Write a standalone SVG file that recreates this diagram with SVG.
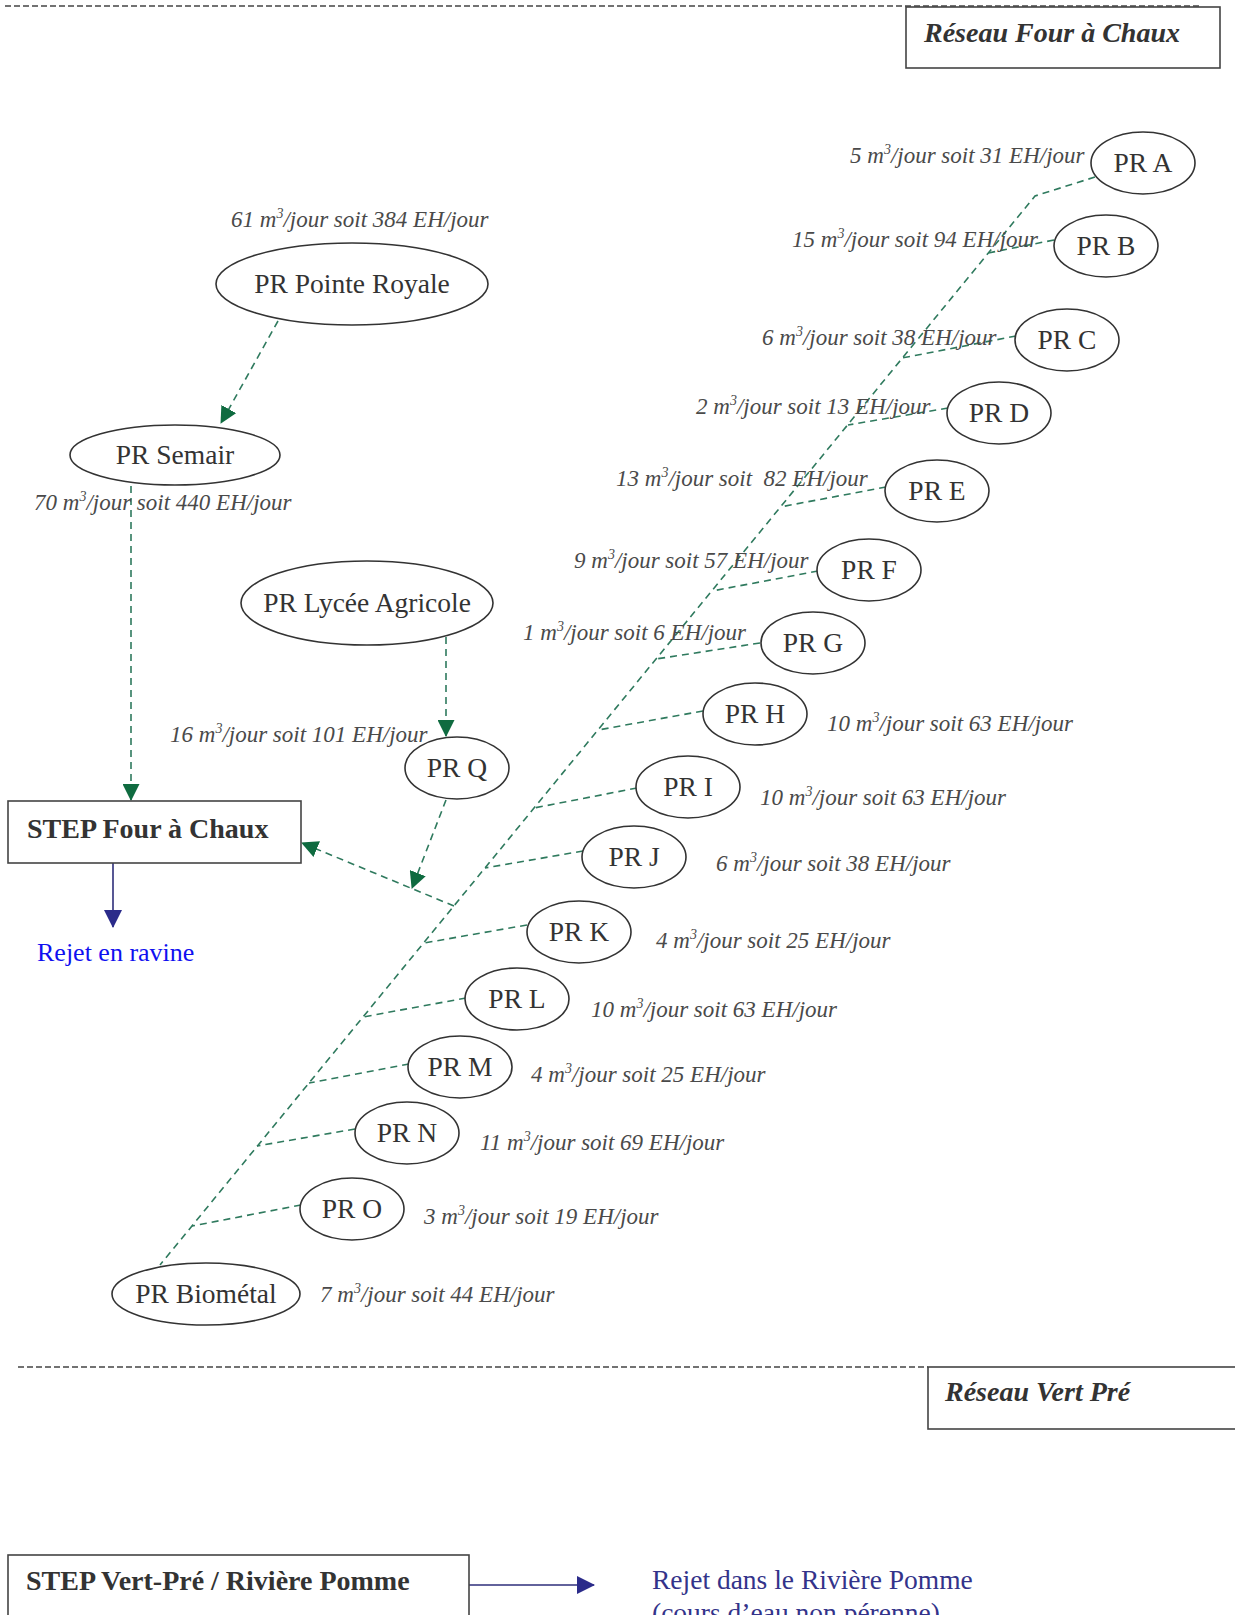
<svg xmlns="http://www.w3.org/2000/svg" width="1235" height="1615" viewBox="0 0 1235 1615">
<style>
.node ellipse{fill:#fff;stroke:#333;stroke-width:1.6}
.node text{font-family:"Liberation Serif",serif;font-size:27.5px;fill:#333;text-anchor:middle}
.lbl{font-family:"Liberation Serif",serif;font-size:23px;font-style:italic;fill:#4a4a4a}
.sup{font-size:14px}
.flow{fill:none;stroke:#2f7a5e;stroke-width:1.6;stroke-dasharray:7 5}
.sep{fill:none;stroke:#444;stroke-width:1.6;stroke-dasharray:6 3}
.box{fill:#fff;stroke:#444;stroke-width:1.6}
.title{font-family:"Liberation Serif",serif;font-size:28px;font-style:italic;font-weight:bold;fill:#333}
.stepTxt{font-family:"Liberation Serif",serif;font-size:28px;font-weight:bold;fill:#333}
.out{fill:none;stroke:#2e2e7a;stroke-width:1.6}
</style>
<defs>
<marker id="ag" markerWidth="17" markerHeight="17" refX="16" refY="8.5" orient="auto" markerUnits="userSpaceOnUse"><path d="M0,0 L17,8.5 L0,17 Z" fill="#0f6b40"/></marker>
<marker id="ab" markerWidth="18" markerHeight="18" refX="17" refY="9" orient="auto" markerUnits="userSpaceOnUse"><path d="M0,0 L18,9 L0,18 Z" fill="#2b2b8a"/></marker>
</defs>

<g id="separators">
<line class="sep" x1="5" y1="6" x2="1200" y2="6"/>
<line class="sep" x1="18" y1="1367" x2="928" y2="1367"/>
</g>

<g id="title-four-a-chaux">
<rect class="box" x="906" y="7" width="314" height="61"/>
<text class="title" x="924" y="42">Réseau Four à Chaux</text>
</g>
<g id="title-vert-pre">
<rect class="box" x="928" y="1367" width="320" height="62"/>
<text class="title" x="945" y="1401">Réseau Vert Pré</text>
</g>

<g id="connectors">
<polyline class="flow" points="1095,177 1035,196 160,1265"/>
<line class="flow" x1="1054" y1="240" x2="988" y2="253"/>
<line class="flow" x1="1016" y1="336" x2="902" y2="358"/>
<line class="flow" x1="948" y1="408" x2="848" y2="425"/>
<line class="flow" x1="886" y1="487" x2="780" y2="507"/>
<line class="flow" x1="818" y1="571" x2="712" y2="591"/>
<line class="flow" x1="760" y1="643" x2="656" y2="659"/>
<line class="flow" x1="703" y1="711" x2="598" y2="730"/>
<line class="flow" x1="637" y1="788" x2="534" y2="808"/>
<line class="flow" x1="583" y1="851" x2="485" y2="868"/>
<line class="flow" x1="527" y1="925" x2="424" y2="943"/>
<line class="flow" x1="466" y1="998" x2="363" y2="1017"/>
<line class="flow" x1="409" y1="1064" x2="309" y2="1083"/>
<line class="flow" x1="355" y1="1129" x2="257" y2="1146"/>
<line class="flow" x1="301" y1="1205" x2="192" y2="1226"/>
<line class="flow" x1="278" y1="321" x2="221" y2="423" marker-end="url(#ag)"/>
<line class="flow" x1="131" y1="486" x2="131" y2="800" marker-end="url(#ag)"/>
<line class="flow" x1="446" y1="637" x2="446" y2="736" marker-end="url(#ag)"/>
<line class="flow" x1="446" y1="800" x2="412" y2="888" marker-end="url(#ag)"/>
<line class="flow" x1="454" y1="906" x2="302" y2="843" marker-end="url(#ag)"/>
<line class="out" x1="113" y1="863" x2="113" y2="927" marker-end="url(#ab)"/>
<line class="out" x1="469" y1="1585" x2="594" y2="1585" marker-end="url(#ab)"/>
</g>

<g id="step-four-a-chaux">
<rect class="box" x="8" y="801" width="293" height="62"/>
<text class="stepTxt" x="27" y="838">STEP Four à Chaux</text>
</g>
<g id="rejet-ravine"><text x="37" y="961" font-family="Liberation Serif, serif" font-size="26" fill="#1010f0">Rejet en ravine</text></g>

<g id="step-vert-pre">
<rect class="box" x="8" y="1555" width="461" height="80"/>
<text class="stepTxt" x="26" y="1590">STEP Vert-Pré / Rivière Pomme</text>
</g>
<g id="rejet-pomme" font-family="Liberation Serif, serif" font-size="27.5" fill="#33338a">
<text x="652" y="1589">Rejet dans le Rivière Pomme</text>
<text x="652" y="1622">(cours d’eau non pérenne)</text>
</g>

<g id="pr-pointe-royale" class="node"><ellipse cx="352" cy="284" rx="136" ry="41"/><text x="352" y="293">PR Pointe Royale</text></g>
<g id="pr-semair" class="node"><ellipse cx="175" cy="455" rx="105" ry="30"/><text x="175" y="464">PR Semair</text></g>
<g id="pr-lycee" class="node"><ellipse cx="367" cy="603" rx="126" ry="42"/><text x="367" y="612">PR Lycée Agricole</text></g>
<g id="pr-q" class="node"><ellipse cx="457" cy="768" rx="52" ry="31"/><text x="457" y="777">PR Q</text></g>
<g id="pr-a" class="node"><ellipse cx="1143" cy="163" rx="52" ry="31"/><text x="1143" y="172">PR A</text></g>
<g id="pr-b" class="node"><ellipse cx="1106" cy="246" rx="52" ry="31"/><text x="1106" y="255">PR B</text></g>
<g id="pr-c" class="node"><ellipse cx="1067" cy="340" rx="52" ry="31"/><text x="1067" y="349">PR C</text></g>
<g id="pr-d" class="node"><ellipse cx="999" cy="413" rx="52" ry="31"/><text x="999" y="422">PR D</text></g>
<g id="pr-e" class="node"><ellipse cx="937" cy="491" rx="52" ry="31"/><text x="937" y="500">PR E</text></g>
<g id="pr-f" class="node"><ellipse cx="869" cy="570" rx="52" ry="31"/><text x="869" y="579">PR F</text></g>
<g id="pr-g" class="node"><ellipse cx="813" cy="643" rx="52" ry="31"/><text x="813" y="652">PR G</text></g>
<g id="pr-h" class="node"><ellipse cx="755" cy="714" rx="52" ry="31"/><text x="755" y="723">PR H</text></g>
<g id="pr-i" class="node"><ellipse cx="688" cy="787" rx="52" ry="31"/><text x="688" y="796">PR I</text></g>
<g id="pr-j" class="node"><ellipse cx="634" cy="857" rx="52" ry="31"/><text x="634" y="866">PR J</text></g>
<g id="pr-k" class="node"><ellipse cx="579" cy="932" rx="52" ry="31"/><text x="579" y="941">PR K</text></g>
<g id="pr-l" class="node"><ellipse cx="517" cy="999" rx="52" ry="31"/><text x="517" y="1008">PR L</text></g>
<g id="pr-m" class="node"><ellipse cx="460" cy="1067" rx="52" ry="31"/><text x="460" y="1076">PR M</text></g>
<g id="pr-n" class="node"><ellipse cx="407" cy="1133" rx="52" ry="31"/><text x="407" y="1142">PR N</text></g>
<g id="pr-o" class="node"><ellipse cx="352" cy="1209" rx="52" ry="31"/><text x="352" y="1218">PR O</text></g>
<g id="pr-biometal" class="node"><ellipse cx="206" cy="1294" rx="94" ry="31"/><text x="206" y="1303">PR Biométal</text></g>

<g id="labels">
<text class="lbl" x="231" y="227">61 m<tspan class="sup" dy="-9">3</tspan><tspan dy="9">/jour soit 384 EH/jour</tspan></text>
<text class="lbl" x="34" y="510">70 m<tspan class="sup" dy="-9">3</tspan><tspan dy="9">/jour soit 440 EH/jour</tspan></text>
<text class="lbl" x="170" y="742">16 m<tspan class="sup" dy="-9">3</tspan><tspan dy="9">/jour soit 101 EH/jour</tspan></text>
<text class="lbl" x="850" y="163">5 m<tspan class="sup" dy="-9">3</tspan><tspan dy="9">/jour soit 31 EH/jour</tspan></text>
<text class="lbl" x="792" y="247">15 m<tspan class="sup" dy="-9">3</tspan><tspan dy="9">/jour soit 94 EH/jour</tspan></text>
<text class="lbl" x="762" y="345">6 m<tspan class="sup" dy="-9">3</tspan><tspan dy="9">/jour soit 38 EH/jour</tspan></text>
<text class="lbl" x="696" y="414">2 m<tspan class="sup" dy="-9">3</tspan><tspan dy="9">/jour soit 13 EH/jour</tspan></text>
<text class="lbl" x="616" y="486" xml:space="preserve">13 m<tspan class="sup" dy="-9">3</tspan><tspan dy="9">/jour soit  82 EH/jour</tspan></text>
<text class="lbl" x="574" y="568">9 m<tspan class="sup" dy="-9">3</tspan><tspan dy="9">/jour soit 57 EH/jour</tspan></text>
<text class="lbl" x="523" y="640">1 m<tspan class="sup" dy="-9">3</tspan><tspan dy="9">/jour soit 6 EH/jour</tspan></text>
<text class="lbl" x="827" y="731">10 m<tspan class="sup" dy="-9">3</tspan><tspan dy="9">/jour soit 63 EH/jour</tspan></text>
<text class="lbl" x="760" y="805">10 m<tspan class="sup" dy="-9">3</tspan><tspan dy="9">/jour soit 63 EH/jour</tspan></text>
<text class="lbl" x="716" y="871">6 m<tspan class="sup" dy="-9">3</tspan><tspan dy="9">/jour soit 38 EH/jour</tspan></text>
<text class="lbl" x="656" y="948">4 m<tspan class="sup" dy="-9">3</tspan><tspan dy="9">/jour soit 25 EH/jour</tspan></text>
<text class="lbl" x="591" y="1017">10 m<tspan class="sup" dy="-9">3</tspan><tspan dy="9">/jour soit 63 EH/jour</tspan></text>
<text class="lbl" x="531" y="1082">4 m<tspan class="sup" dy="-9">3</tspan><tspan dy="9">/jour soit 25 EH/jour</tspan></text>
<text class="lbl" x="480" y="1150">11 m<tspan class="sup" dy="-9">3</tspan><tspan dy="9">/jour soit 69 EH/jour</tspan></text>
<text class="lbl" x="424" y="1224">3 m<tspan class="sup" dy="-9">3</tspan><tspan dy="9">/jour soit 19 EH/jour</tspan></text>
<text class="lbl" x="320" y="1302">7 m<tspan class="sup" dy="-9">3</tspan><tspan dy="9">/jour soit 44 EH/jour</tspan></text>
</g>
</svg>
